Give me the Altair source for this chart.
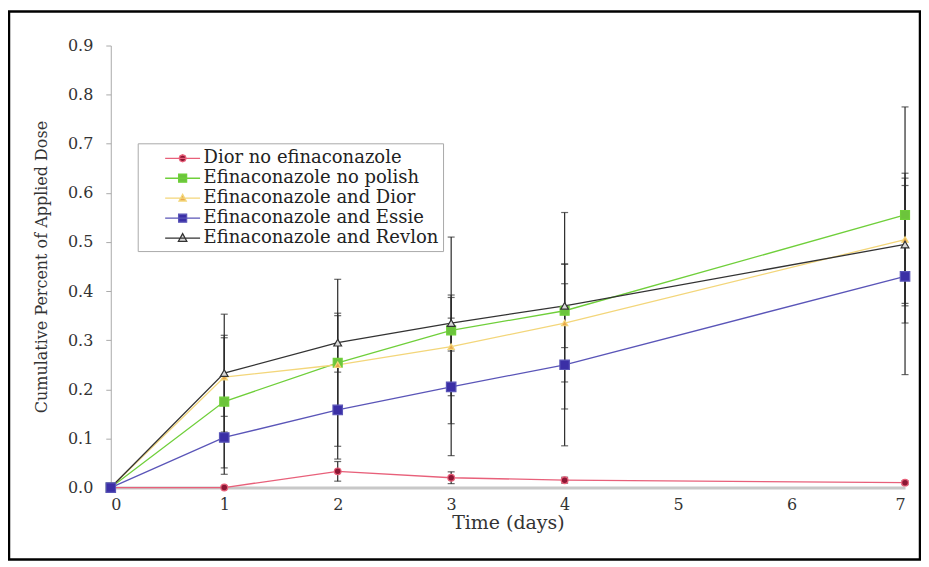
import altair as alt
import pandas as pd

SERIES = ["Dior no efinaconazole", "Efinaconazole no polish", "Efinaconazole and Dior",
          "Efinaconazole and Essie", "Efinaconazole and Revlon"]
DAYS = [0, 1, 2, 3, 4, 7]

dior_none = [0.0, 0.0, 0.033, 0.02, 0.015, 0.01]
no_polish = [0.0, 0.175, 0.254, 0.32, 0.36, 0.555]
and_dior = [0.0, 0.225, 0.25, 0.287, 0.335, 0.505]
and_essie = [0.0, 0.102, 0.158, 0.205, 0.25, 0.43]
and_revlon = [0.0, 0.233, 0.295, 0.335, 0.37, 0.495]

dior_none_err = [0.0, 0.003, 0.02, 0.012, 0.006, 0.004]
no_polish_err = [0.0, 0.135, 0.17, 0.19, 0.2, 0.22]
and_dior_err = [0.0, 0.08, 0.1, 0.1, 0.12, 0.135]
and_essie_err = [0.0, 0.075, 0.1, 0.14, 0.165, 0.2]
and_revlon_err = [0.0, 0.12, 0.06, 0.057, 0.085, 0.12]

LINE_COLORS = ["#e8607a", "#6fcf3a", "#f3d67a", "#5a55b8", "#333333"]
MARKER_COLORS = ["#8c1634", "#6cc43c", "#e9a64a", "#3b2fa6", "#d9d9d9"]
MARKER_SHAPES = ["circle", "square", "triangle-up", "square", "triangle-up"]
MARKER_SIZES = [45, 80, 40, 90, 60]
DRAW_ORDER = [0, 1, 2, 4, 3]
LEGEND_PATHS = [
    "M-1.75,0H1.75M0.35,0L0.25,0.25L0,0.35L-0.25,0.25L-0.35,0L-0.25,-0.25L0,-0.35L0.25,-0.25Z",
    "M-1.75,0H1.75M-0.4,-0.4H0.4V0.4H-0.4Z",
    "M-1.75,0H1.75M0,-0.38L0.36,0.28H-0.36Z",
    "M-1.75,0H1.75M-0.4,-0.4H0.4V0.4H-0.4Z",
    "M-1.75,0H1.75M0,-0.45L0.42,0.32H-0.42Z",
]

vals = [dior_none, no_polish, and_dior, and_essie, and_revlon]
errs = [dior_none_err, no_polish_err, and_dior_err, and_essie_err, and_revlon_err]
rows = []
for s, v, e in zip(SERIES, vals, errs):
    for d, y, err in zip(DAYS, v, e):
        rows.append({"series": s, "day": d, "value": y, "lo": max(0.0, y - err), "hi": y + err})
df = pd.DataFrame(rows)

FONT = "DejaVu Serif"

xs = alt.Scale(domain=[0, 7], nice=False)
ys = alt.Scale(domain=[0, 0.9], nice=False)

base = alt.Chart(df)

x_axis = alt.Axis(title="Time (days)", values=list(range(8)), format="d", grid=False,
                  ticks=False, labelPadding=9, domainColor="#c8c8c8", domainWidth=3,
                  titlePadding=1, titleFontSize=19)
y_axis = alt.Axis(title="Cumulative Percent of Applied Dose", values=[i / 10 for i in range(10)],
                  format=".1f", grid=False, tickSize=5, tickColor="#aaaaaa",
                  domainColor="#aaaaaa", labelPadding=13, titlePadding=18, titleFontSize=16)

legend_def = alt.Legend(title=None, orient="none", legendX=27, legendY=98,
                        symbolSize=400, symbolStrokeWidth=1.3, symbolOpacity=1,
                        symbolFillColor="white", symbolStrokeColor="black",
                        symbolOffset=30, labelOffset=10,
                        labelFont=FONT, labelFontSize=18, labelColor="#222222",
                        labelExpr="datum.label + '\u2003\u2002\u2009'",
                        rowPadding=0, padding=4,
                        strokeColor="#aaaaaa", fillColor="white",
                        labelLimit=400)

legend_layer = base.mark_point(opacity=0, filled=True).encode(
    x=alt.X("day:Q", scale=xs, axis=x_axis), y=alt.Y("value:Q", scale=ys, axis=y_axis),
    fill=alt.Fill("series:N", scale=alt.Scale(domain=SERIES, range=MARKER_COLORS), legend=legend_def),
    stroke=alt.Stroke("series:N", scale=alt.Scale(domain=SERIES, range=LINE_COLORS), legend=legend_def),
    shape=alt.Shape("series:N", scale=alt.Scale(domain=SERIES, range=LEGEND_PATHS), legend=legend_def),
)

frame = alt.Chart(pd.DataFrame({"a": [0]})).mark_rect(
    fill=None, stroke="black", strokeWidth=2.5, clip=False
).encode(x=alt.value(-102), x2=alt.value(811), y=alt.value(-34), y2=alt.value(515))

err_rule = base.mark_rule(color="#2a2a2a", strokeWidth=1.2).encode(
    x=alt.X("day:Q", scale=xs), y=alt.Y("lo:Q", scale=ys), y2="hi:Q")
cap_lo = base.mark_tick(color="#2a2a2a", orient="horizontal", size=7, thickness=1.2).encode(
    x=alt.X("day:Q", scale=xs), y=alt.Y("lo:Q", scale=ys))
cap_hi = base.mark_tick(color="#2a2a2a", orient="horizontal", size=7, thickness=1.2).encode(
    x=alt.X("day:Q", scale=xs), y=alt.Y("hi:Q", scale=ys))

line_layers = []
for s, lc in zip(SERIES, LINE_COLORS):
    line_layers.append(
        base.transform_filter(alt.datum.series == s).mark_line(strokeWidth=1.3, color=lc).encode(
            x=alt.X("day:Q", scale=xs), y=alt.Y("value:Q", scale=ys))
    )

point_layers = []
for i in DRAW_ORDER:
    s = SERIES[i]
    point_layers.append(
        base.transform_filter(alt.datum.series == s).mark_point(
            shape=MARKER_SHAPES[i], size=MARKER_SIZES[i], filled=False, opacity=1, strokeWidth=1.2,
            fill=MARKER_COLORS[i], stroke=LINE_COLORS[i]
        ).encode(x=alt.X("day:Q", scale=xs), y=alt.Y("value:Q", scale=ys))
    )

chart = alt.layer(legend_layer, frame, err_rule, cap_lo, cap_hi, *line_layers, *point_layers).properties(
    width=796, height=443,
    autosize=alt.AutoSizeParams(type="none"),
    padding={"left": 103, "top": 37, "right": 16, "bottom": 74},
    background="white",
).configure_view(stroke=None).configure_axis(
    labelFont=FONT, titleFont=FONT, labelFontSize=16, titleFontSize=17,
    labelColor="#333333", titleColor="#333333", titleFontWeight="normal",
)

chart.save("out.html", embed_options={"renderer": "svg", "actions": False})
